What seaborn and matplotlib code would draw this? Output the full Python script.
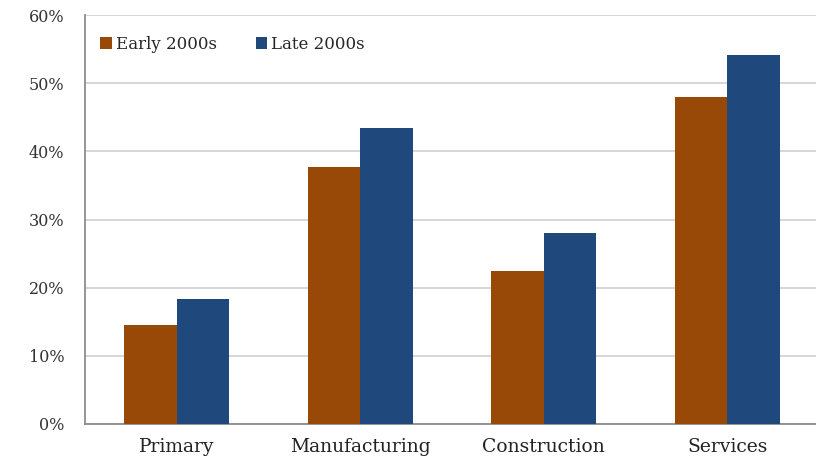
import matplotlib
matplotlib.use("Agg")
import matplotlib.pyplot as plt
import matplotlib.ticker as mticker
import seaborn as sns
import pandas as pd

sectors = ["Primary", "Manufacturing", "Construction", "Services"]
early_2000s = [14.5, 37.7, 22.4, 47.9]
late_2000s = [18.3, 43.4, 28.0, 54.1]
periods = ["Early 2000s", "Late 2000s"]
colors = ["#984807", "#1F497D"]

df = pd.DataFrame({
    "sector": sectors * 2,
    "share": early_2000s + late_2000s,
    "period": [periods[0]] * 4 + [periods[1]] * 4,
})

sns.set_theme(style="white")
plt.rcParams["font.family"] = ["DejaVu Serif", "Liberation Serif"]

fig = plt.figure(figsize=(8.16, 4.57), dpi=100)
ax = fig.add_axes([85 / 816, 1 - 424 / 457, (819 - 85) / 816, (424 - 15) / 457])

sns.barplot(data=df, x="sector", y="share", hue="period", order=sectors,
            hue_order=periods, palette=colors, width=0.57, saturation=1,
            errorbar=None, ax=ax, zorder=3, linewidth=0)

ax.set_ylim(0, 60)
ax.set_xlim(-0.5, 3.5)
ax.yaxis.set_major_locator(mticker.MultipleLocator(10))
ax.yaxis.set_major_formatter(mticker.FuncFormatter(lambda v, p: f"{v:.0f}%"))
ax.grid(axis="y", color="#d0d0d0", linewidth=1.2, zorder=0)
ax.set_axisbelow(True)
ax.set_xlabel("")
ax.set_ylabel("")

for side in ["top", "right"]:
    ax.spines[side].set_visible(False)
for side in ["left", "bottom"]:
    ax.spines[side].set_color("#8c8c8c")
    ax.spines[side].set_linewidth(1.3)

ax.tick_params(axis="y", labelsize=11.5, colors="#333333", length=0, pad=15)
ax.tick_params(axis="x", labelsize=13.5, colors="#222222", length=0, pad=10)

ax.legend(loc="upper left", bbox_to_anchor=(0.012, 0.965), ncol=2, frameon=False,
          fontsize=12, handlelength=0.7, handleheight=0.7, handletextpad=0.25,
          columnspacing=2.3, borderaxespad=0)

fig.savefig("out.png", dpi=100)
